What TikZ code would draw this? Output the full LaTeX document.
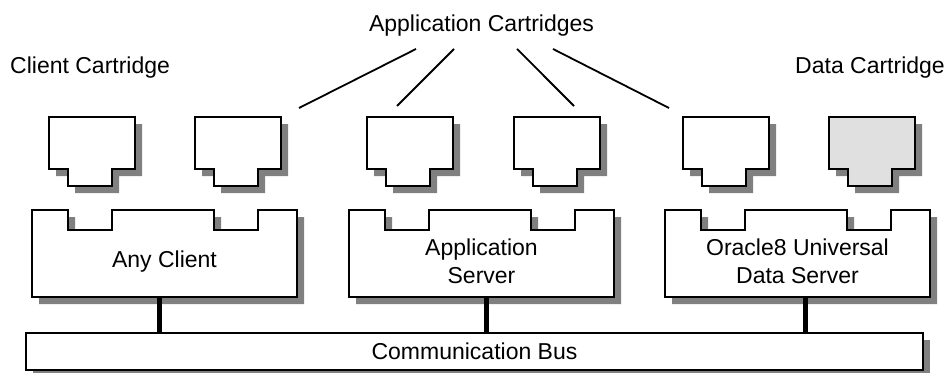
\documentclass[tikz,border=0pt]{standalone}
\usepackage{fontspec}
\setmainfont{Liberation Sans}
\usetikzlibrary{shadows}
\definecolor{shadowgray}{HTML}{808080}
\definecolor{datafill}{HTML}{E0E0E0}

\tikzset{
  blockline/.style={draw, line width=1.8pt, fill=white,
    drop shadow={shadow xshift=7pt, shadow yshift=-7pt, fill=shadowgray, opacity=1}},
  toptext/.style={inner sep=0pt},
  servertext/.style={align=center, inner sep=0pt},
  busbox/.style={blockline, minimum width=897pt, minimum height=37pt, inner sep=0pt},
  busline/.style={line width=5pt},
  pointer/.style={line width=1.8pt}
}

% cartridge: x, y of top left corner, fill
\newcommand{\drawcart}[3]{%
  \path[blockline, fill=#3] (#1,#2) -- ++(86,0) -- ++(0,52) -- ++(-23,0) -- ++(0,17)
    -- ++(-44,0) -- ++(0,-17) -- ++(-19,0) -- cycle;}
% server box with two notches: x of left edge
\newcommand{\drawserver}[1]{%
  \path[blockline] (#1,210) -- ++(36,0) -- ++(0,20) -- ++(44,0) -- ++(0,-20)
    -- ++(102,0) -- ++(0,20) -- ++(44,0) -- ++(0,-20) -- ++(39,0)
    -- ++(0,87) -- ++(-265,0) -- cycle;}

\begin{document}
\begin{tikzpicture}[x=1pt, y=-1pt,
    every node/.style={font=\fontsize{23}{27.5}\selectfont}]
  \useasboundingbox (0,0) rectangle (949,372);

  % labels
  \node[toptext, anchor=base west] (clientcart) at (10,73) {Client Cartridge};
  \node[toptext, anchor=base] (appcart) at (481.5,31) {Application Cartridges};
  \node[toptext, anchor=base east] (datacart) at (945,73) {Data Cartridge};

  % cartridges
  \drawcart{49}{117}{white}
  \drawcart{195}{117}{white}
  \drawcart{367}{117}{white}
  \drawcart{514}{117}{white}
  \drawcart{683}{117}{white}
  \drawcart{829}{117}{datafill}

  % servers
  \drawserver{32}
  \drawserver{349}
  \drawserver{665}
  \node[servertext] (client) at (164.5,261.5) {Any Client};
  \node[servertext] (appserver) at (481.5,261.5) {Application\\Server};
  \node[servertext] (dataserver) at (797.5,261.5) {Oracle8 Universal\\Data Server};

  % bus
  \node[busbox] (bus) at (474.5,351.5) {Communication Bus};
  \coordinate (clientfoot) at (159,297);
  \coordinate (appfoot) at (486,297);
  \coordinate (datafoot) at (805,297);
  \draw[busline] (clientfoot) -- (clientfoot |- bus.north);
  \draw[busline] (appfoot) -- (appfoot |- bus.north);
  \draw[busline] (datafoot) -- (datafoot |- bus.north);

  % pointers to the application cartridges
  \coordinate (cart2) at (299,108);
  \coordinate (cart3) at (397,106);
  \coordinate (cart4) at (574,106);
  \coordinate (cart5) at (669,108);
  \draw[pointer] ([xshift=-65.5pt,yshift=-13pt]appcart.south) -- (cart2);
  \draw[pointer] ([xshift=-27.5pt,yshift=-13pt]appcart.south) -- (cart3);
  \draw[pointer] ([xshift=35.5pt,yshift=-13pt]appcart.south) -- (cart4);
  \draw[pointer] ([xshift=71.5pt,yshift=-13pt]appcart.south) -- (cart5);
\end{tikzpicture}
\end{document}
